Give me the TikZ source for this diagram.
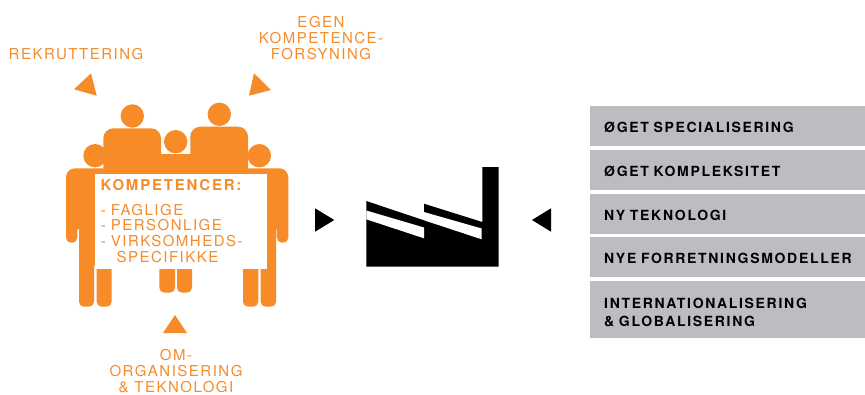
\documentclass[tikz,border=0pt]{standalone}
\usepackage{fontspec}
\setmainfont{TeX Gyre Heros}[LetterSpace=10]
\newfontfamily\trackedbold{TeX Gyre Heros}[LetterSpace=12,BoldFont={* Bold}]
\usetikzlibrary{positioning}
\definecolor{kompetence}{HTML}{F68B28}
\definecolor{faktor}{HTML}{BCBDC0}
\tikzset{
    head/.style={fill=kompetence},
    torso/.style={fill=kompetence, rounded corners=10pt},
    body/.style={fill=kompetence, rounded corners=5pt},
    wedge/.style={fill=kompetence},
    marker/.style={fill=black},
    orangetext/.style={text=kompetence, inner sep=0pt, align=center, font=\fontsize{15}{16}\selectfont},
    listtext/.style={text=kompetence, inner sep=0pt, anchor=base west, font=\fontsize{15}{16}\selectfont},
    faktorbox/.style={fill=faktor, anchor=north west, minimum width=275pt, inner sep=0pt, inner xsep=14pt,
        text width=247pt, align=left, text height=12pt, text depth=0pt, font=\fontsize{14}{17.5}\selectfont\trackedbold\bfseries},
}
\begin{document}
\begin{tikzpicture}[x=1pt,y=-1pt]
    \useasboundingbox (0,0) rectangle (865,394);
    % Heads
    \fill[head] (132.3,116) circle (11.7);
    \fill[head] (219.3,114.3) circle (11.7);
    \fill[head] (175.7,141.7) circle (11.7);
    \fill[head] (95,155.7) circle (11.7);
    \fill[head] (259.3,155.7) circle (11.7);
    % The two tall torsos and the middle person
    \fill[torso] (103.3,210) -- (103.3,128.3) -- (161,128.3) -- (161,210) -- cycle;
    \fill[torso] (190.3,210) -- (190.3,126.7) -- (248,126.7) -- (248,210) -- cycle;
    \fill[kompetence] (160,154.3) rectangle (192,200);
    % The outer persons
    \fill[body] (120,262) -- (120,168.3) [rounded corners=9pt] -- (66,168.3) [rounded corners=5pt] -- (66,242.7)
        -- (77.3,242.7) -- (77.3,225) -- (79,225) -- (79,306.7) -- (94,306.7) -- (94,262) -- cycle;
    \fill[body] (235,262) -- (235,168.3) [rounded corners=9pt] -- (288.3,168.3) [rounded corners=5pt] -- (288.3,242.7)
        -- (276.9,242.7) -- (276.9,225) -- (276,225) -- (276,262) -- cycle;
    % The legs
    \fill[body] (96.7,250) -- (96.7,306.7) -- (111.7,306.7) -- (111.7,250) -- cycle;
    \fill[body] (159.3,250) -- (159.3,292.7) -- (175,292.7) -- (175,250) -- cycle;
    \fill[body] (177,250) -- (177,292.7) -- (192,292.7) -- (192,250) -- cycle;
    \fill[body] (243,250) -- (243,306.7) -- (258.3,306.7) -- (258.3,250) -- cycle;
    \fill[body] (260.7,250) -- (260.7,306.7) -- (276,306.7) -- (276,250) -- cycle;
    % The white panel
    \fill[white] (95,174) rectangle (267.3,269);
    \node[listtext, font=\fontsize{15}{16}\selectfont\trackedbold\bfseries] (kompetencer) at (100.5,190.7) {KOMPETENCER:};
    \node[listtext] (faglige) at (100.7,215) {-\hspace{5pt}FAGLIGE};
    \node[listtext] (personlige) at (100.7,230.3) {-\hspace{5pt}PERSONLIGE};
    \node[listtext] (virksomheds) at (100.7,246) {-\hspace{5pt}VIRKSOMHEDS-};
    \node[listtext] (specifikke) at (116.3,262.3) {SPECIFIKKE};
    % Orange wedges
    \fill[wedge] (91,73.3) -- (74,89.3) -- (96.7,95.7) -- cycle;
    \fill[wedge] (254,73.3) -- (271,90) -- (249,95.7) -- cycle;
    \fill[wedge] (175,315) -- (163,333) -- (187,333) -- cycle;
    % Labels
    \node[orangetext] (rekruttering) at (76,54) {REKRUTTERING};
    \node[orangetext] (egen) at (321,38) {EGEN\\KOMPETENCE-\\FORSYNING};
    \node[orangetext] (omorg) at (176,371.5) {OM-\\ORGANISERING\\\& TEKNOLOGI};
    % The factory
    \fill[black] (366.3,266.7) -- (366.3,201) -- (424,220.3) -- (424,203.7) -- (482.3,222) -- (482.3,167)
        -- (498.7,167) -- (498.7,266.7) -- cycle;
    \fill[white] (366.3,210.5) -- (424,227.5) -- (424,238.3) -- (366.3,219.3) -- cycle;
    \fill[white] (424,212) -- (481.7,228.5) -- (481.7,239.3) -- (424,220.3) -- cycle;
    % Black markers
    \fill[marker] (315,208.3) -- (334.3,220) -- (315,231.7) -- cycle;
    \fill[marker] (551,208.3) -- (532,220) -- (551,231.7) -- cycle;
    % The boxes on the right
    \node[faktorbox, minimum height=39.7pt] (special) at (590,106) {ØGET SPECIALISERING};
    \node[faktorbox, minimum height=39.7pt] (kompleks) at (590,150) {ØGET KOMPLEKSITET};
    \node[faktorbox, minimum height=40pt] (teknologi) at (590,194) {NY TEKNOLOGI};
    \node[faktorbox, minimum height=39.7pt] (modeller) at (590,237) {NYE FORRETNINGSMODELLER};
    \node[faktorbox, minimum height=56.7pt, text depth=14pt] (global) at (590,281) {INTERNATIONALISERING\\\& GLOBALISERING};
\end{tikzpicture}
\end{document}
